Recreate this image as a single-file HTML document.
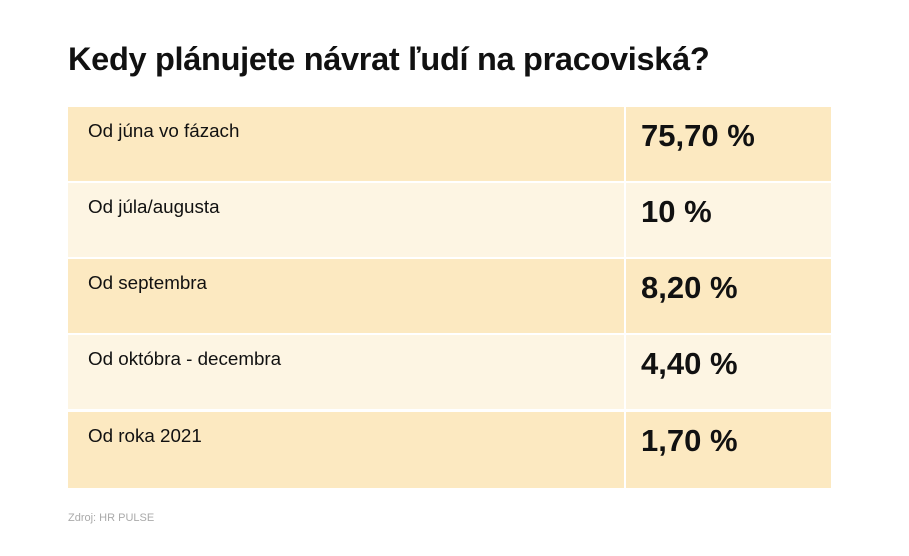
<!DOCTYPE html>
<html><head><meta charset="utf-8"><style>
body{margin:0;width:909px;height:556px;background:#fff;font-family:"Liberation Sans",sans-serif;position:relative;overflow:hidden}
h1{position:absolute;left:68px;top:41px;margin:0;font-size:32.5px;font-weight:bold;color:#111;letter-spacing:-0.3px}
.row{position:absolute;left:68px;width:763px;height:74px}
.d{background:#fce9c1}.l{background:#fdf5e3}
.sep{position:absolute;left:556px;top:0;width:2px;height:100%;background:#fff}
.lab{position:absolute;left:20px;top:13px;font-size:18.8px;color:#111}
.val{position:absolute;left:573px;top:11px;font-size:31px;font-weight:bold;color:#111}
.src{position:absolute;left:68px;top:512px;font-size:11px;color:#aaa}
</style></head><body>
<h1>Kedy plánujete návrat ľudí na pracoviská?</h1>
<div class="row d" style="top:107px"><div class="sep"></div><div class="lab">Od júna vo fázach</div><div class="val">75,70 %</div></div>
<div class="row l" style="top:183px"><div class="sep"></div><div class="lab">Od júla/augusta</div><div class="val">10 %</div></div>
<div class="row d" style="top:259px"><div class="sep"></div><div class="lab">Od septembra</div><div class="val">8,20 %</div></div>
<div class="row l" style="top:335px"><div class="sep"></div><div class="lab">Od októbra - decembra</div><div class="val">4,40 %</div></div>
<div class="row d" style="top:412px;height:76px"><div class="sep"></div><div class="lab">Od roka 2021</div><div class="val">1,70 %</div></div>
<div class="src">Zdroj: HR PULSE</div>
</body></html>
